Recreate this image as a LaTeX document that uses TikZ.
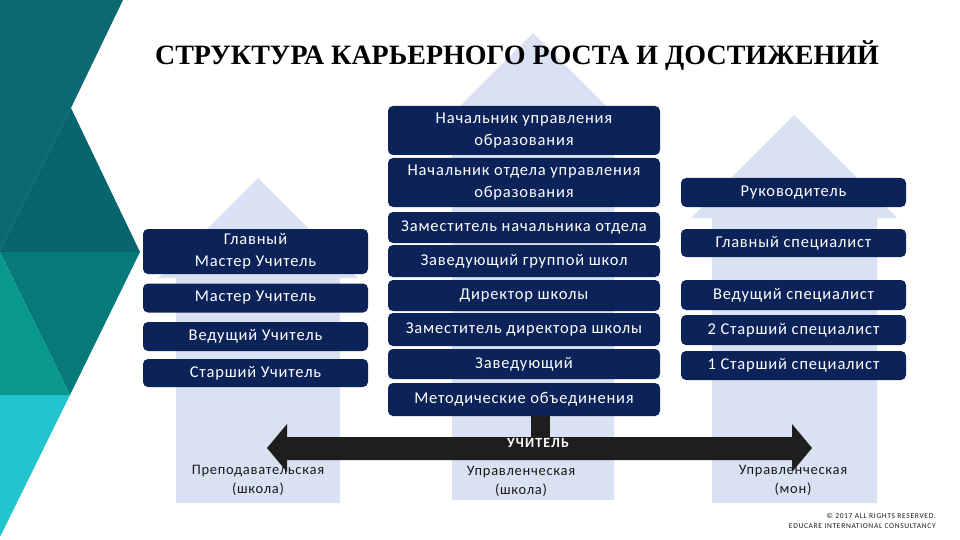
\documentclass[tikz,border=0pt]{standalone}
\usepackage{fontspec}
\setmainfont{Carlito}[LetterSpace=5]
\newfontfamily\titlefont{Liberation Serif}
\newfontfamily\smallfont{Carlito}[LetterSpace=9]
\definecolor{navy}{HTML}{0C2359}
\definecolor{pale}{HTML}{D9E1F2}
\definecolor{tealA}{HTML}{0B6A71}
\definecolor{tealB}{HTML}{07656D}
\definecolor{tealC}{HTML}{067A7A}
\definecolor{tealD}{HTML}{08998C}
\definecolor{cyanE}{HTML}{22C5CD}
\definecolor{arrowblack}{HTML}{1E1E1E}
\definecolor{labeltext}{HTML}{1A1A1A}
\tikzset{
  rbox/.style={fill=navy, rounded corners=5pt, text=white, align=center, inner sep=0pt,
    font=\fontsize{16.5}{22}\selectfont},
  lbox/.style={rbox, minimum width=225pt},
  cbox/.style={rbox, minimum width=272pt},
  paleshape/.style={fill=pale, draw=none},
  bottomlabel/.style={text=labeltext, align=center, font=\fontsize{14.5}{19}\selectfont},
}
\begin{document}
\begin{tikzpicture}[x=1pt,y=-1pt]
\useasboundingbox (0,0) rectangle (960,540);
\fill[white] (0,0) rectangle (960,540);
% left decoration
\fill[tealA] (0,0) -- (123,0) -- (71,108) -- (0,250) -- cycle;
\fill[tealB] (71,108) -- (140,252) -- (0,252) -- (0,250) -- cycle;
\fill[tealC] (0,252) -- (140,252) -- (70,395) -- cycle;
\fill[tealD] (0,252) -- (70,395) -- (0,395) -- cycle;
\fill[cyanE] (0,395) -- (70,395) -- (0,537) -- cycle;
% background arrows
\fill[paleshape] (258,178) -- (358,278) -- (340,278) -- (340,503) -- (176,503) -- (176,278) -- (158,278) -- cycle;
\fill[paleshape] (533,33) -- (633,133) -- (614,133) -- (614,500) -- (452,500) -- (452,133) -- (433,133) -- cycle;
\fill[paleshape] (794,115) -- (897,218) -- (877,218) -- (877,503) -- (712,503) -- (712,218) -- (691,218) -- cycle;
% title
\node (title) at (517,56) {\titlefont\bfseries\fontsize{28}{30}\selectfont СТРУКТУРА КАРЬЕРНОГО РОСТА И ДОСТИЖЕНИЙ};
% left column
\node[lbox, minimum height=45pt] (l1) at (255.5,251.5) {Главный\\Мастер Учитель};
\node[lbox, minimum height=29pt] (l2) at (255.5,298) {Мастер Учитель};
\node[lbox, minimum height=29pt] (l3) at (255.5,336.5) {Ведущий Учитель};
\node[lbox, minimum height=28pt] (l4) at (255.5,373) {Старший Учитель};
% centre column
\node[cbox, minimum height=49pt] (c1) at (524,130.5) {Начальник управления\\образования};
\node[cbox, minimum height=49pt] (c2) at (524,182.5) {Начальник отдела управления\\образования};
\node[cbox, minimum height=31pt] (c3) at (524,227.5) {Заместитель начальника отдела};
\node[cbox, minimum height=32pt] (c4) at (524,261) {Заведующий группой школ};
\node[cbox, minimum height=31pt] (c5) at (524,295.5) {Директор школы};
\node[cbox, minimum height=33pt] (c6) at (524,329.5) {Заместитель директора школы};
\node[cbox, minimum height=30pt] (c7) at (524,364) {Заведующий};
\node[cbox, minimum height=33pt] (c8) at (524,399.5) {Методические объединения};
% right column
\node[lbox, minimum height=29pt] (r1) at (793.5,192.5) {Руководитель};
\node[lbox, minimum height=28pt] (r2) at (793.5,243) {Главный специалист};
\node[lbox, minimum height=30pt] (r3) at (793.5,295) {Ведущий специалист};
\node[lbox, minimum height=30pt] (r4) at (793.5,330) {2 Старший специалист};
\node[lbox, minimum height=29pt] (r5) at (793.5,365.5) {1 Старший специалист};
% double arrow
\coordinate (atop) at (540,437);
\fill[arrowblack] (267,448) -- (287,424) -- (287,437) -- (792,437) -- (792,424) -- (812,448)
  -- (792,472) -- (792,460) -- (287,460) -- (287,472) -- cycle;
\draw[arrowblack, line width=19pt] ([xshift=16pt]c8.south) -- (atop);
\node[text=white, font=\fontsize{14}{16}\selectfont\bfseries\addfontfeature{LetterSpace=8}] (teacher) at (538,443) {УЧИТЕЛЬ};
% bottom labels
\node[bottomlabel] (b1) at (258,480) {Преподавательская\\(школа)};
\node[bottomlabel] (b2) at (521,481) {Управленческая\\(школа)};
\node[bottomlabel] (b3) at (793,480) {Управленческая\\(мон)};
% copyright
\node[anchor=east, text=labeltext, align=right, inner sep=0pt, font=\smallfont\fontsize{7.5}{10}\selectfont] (copy) at (936,521) {© 2017 ALL RIGHTS RESERVED.\\EDUCARE INTERNATIONAL CONSULTANCY};
\end{tikzpicture}
\end{document}
